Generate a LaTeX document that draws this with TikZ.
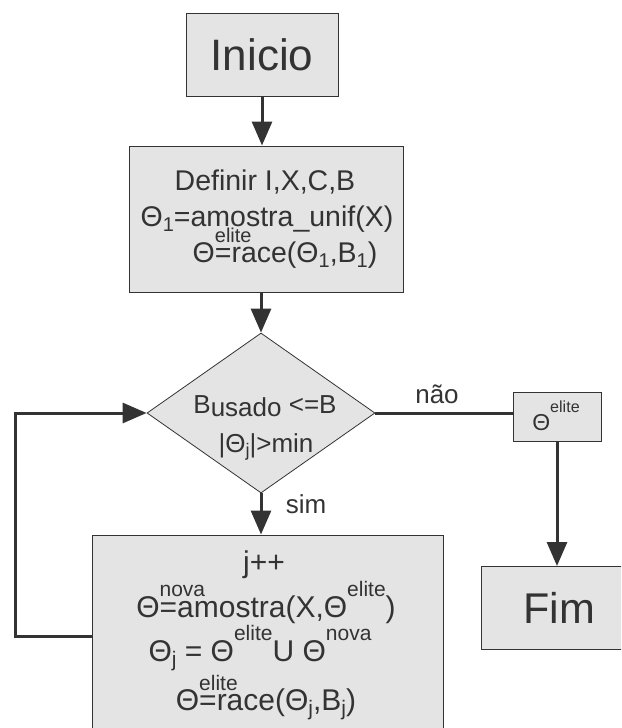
\documentclass[tikz,border=0pt]{standalone}
\usepackage{fontspec}
\setmainfont{Liberation Sans}
\usepackage{xfp}
\usetikzlibrary{arrows.meta,shapes.geometric}
\definecolor{boxfill}{HTML}{E4E4E4}
\definecolor{ink}{HTML}{333333}
% raised / lowered small text for the formulas, at 0.7 of the current size
\makeatletter
\newcommand\smallsize{\fontsize{\fpeval{0.7*\f@size}}{0}\selectfont}
\makeatother
\newcommand\suptxt[2][0.68em]{\raisebox{#1}{\smallsize #2}}
\newcommand\supover[2][0.68em]{\rlap{\suptxt[#1]{#2}}}
\newcommand\subtxt[1]{\raisebox{-0.18em}{\smallsize #1}}

\begin{document}
\begin{tikzpicture}[x=1pt,y=-1pt,
  stepbox/.style={draw=ink, line width=1pt, fill=boxfill, rectangle, inner sep=0pt},
  decision/.style={draw=ink, line width=0.8pt, fill=boxfill, diamond, inner sep=0pt},
  txt/.style={text=ink, inner sep=0pt, anchor=base},
  flow/.style={draw=ink, line width=3pt},
  arrow/.style={flow, -{Triangle[length=24pt,width=20pt]}},
]
\useasboundingbox (0,0) rectangle (621,728);
\clip (0,0) rectangle (621,728);

% start
\node[stepbox, minimum width=152pt, minimum height=83pt] (inicio) at (262,54.5) {};
\node[txt, font=\fontsize{44}{50}\selectfont] (inicioT) at (262,70) {Inicio};

% initialisation
\node[stepbox, minimum width=274pt, minimum height=146pt] (definir) at (266,219) {};
\begin{scope}[font=\fontsize{28.5}{34}\selectfont]
\node[txt] (def1) at (265,190) {Definir I,X,C,B};
\node[txt] (def2) at (267,226) {Θ\subtxt{1}=amostra\_unif(X)};
\node[txt] (def3) at (285,262) {Θ\supover{elite}=race(Θ\subtxt{1},B\subtxt{1})};
\end{scope}

% loop condition
\node[decision, minimum width=228pt, minimum height=160pt] (teste) at (261,413) {};
\begin{scope}[font=\fontsize{26}{30}\selectfont]
\node[txt] (cond1) at (265,413) {B\raisebox{-0.15em}{usado} <=B};
\node[txt] (cond2) at (266,452) {|Θ\subtxt{j}|>min};
\node[txt] (nao) at (437,403) {não};
\node[txt] (sim) at (306,513) {sim};
\end{scope}

% result
\node[stepbox, minimum width=88pt, minimum height=49pt] (saida) at (557,416.5) {};
\node[txt, font=\fontsize{23}{28}\selectfont] (saidaT) at (556,430) {Θ\suptxt[0.78em]{elite}};

% end
\node[stepbox, minimum width=152pt, minimum height=83pt] (fim) at (557,608) {};
\node[txt, font=\fontsize{43}{50}\selectfont] (fimT) at (559,623) {Fim};

% iteration
\node[stepbox, minimum width=351pt, minimum height=202pt] (passo) at (267.5,636) {};
\begin{scope}[font=\fontsize{30}{36}\selectfont]
\node[txt] (it1) at (264,572) {j++};
\node[txt] (it2) at (266,617) {Θ\supover{nova}=amostra(X,Θ\suptxt{elite})};
\node[txt] (it3) at (260,661) {Θ\subtxt{j} = Θ\suptxt{elite}U Θ\suptxt{nova}};
\node[txt] (it4) at (266,710) {Θ\supover[0.64em]{elite}=race(Θ\subtxt{j},B\subtxt{j})};
\end{scope}

% connectors
\draw[arrow] (inicio.south) -- (inicio.south |- definir.north);
\draw[arrow] (teste.north |- definir.south) -- (teste.north);
\draw[flow] (teste.east) -- (teste.east -| saida.west);
\draw[arrow] (saida.south) -- (fim.north);
\draw[arrow] (teste.south) -- (teste.south |- passo.north);
\coordinate (loopbottom) at (15,636);
\coordinate (looptop) at (15,413);
\draw[arrow] (passo.west) -- (loopbottom) -- (looptop) -- (teste.west);
\end{tikzpicture}
\end{document}
